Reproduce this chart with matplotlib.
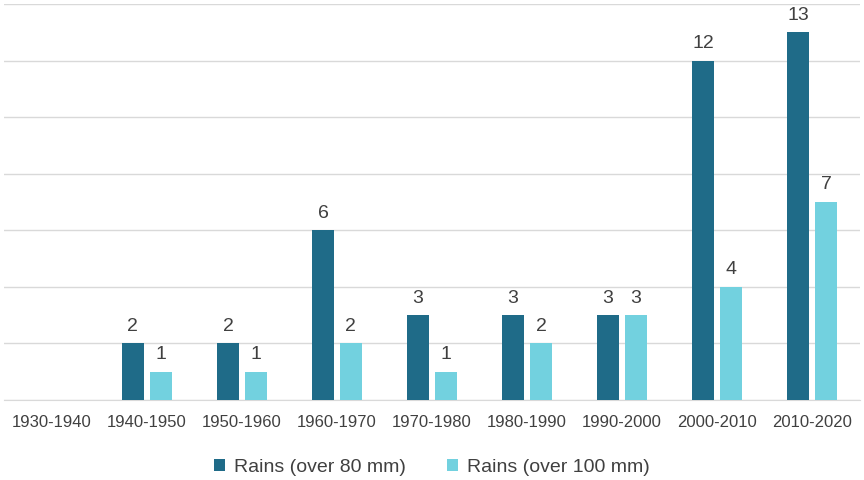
import matplotlib
matplotlib.use('Agg')
from matplotlib import pyplot as plt
import numpy as np

decades=['1930-1940','1940-1950','1950-1960','1960-1970','1970-1980','1980-1990','1990-2000','2000-2010','2010-2020']
over80=[0,2,2,6,3,3,3,12,13]
over100=[0,1,1,2,1,2,3,4,7]
series_names=['Rains (over 80 mm)','Rains (over 100 mm)']
dark='#1F6B88'
light='#72D1DF'

plt.rcParams['font.family']=['Liberation Sans','DejaVu Sans']
f=plt.figure(figsize=(8.64,4.8),dpi=100)
ax=f.add_axes((0.005,0.1667,0.99,0.825))
x=np.arange(len(decades))
w=0.23
off=0.147
b1=ax.bar(x-off,over80,w,color=dark,label=series_names[0],zorder=3)
b2=ax.bar(x+off,over100,w,color=light,label=series_names[1],zorder=3)
for bars,vals in ((b1,over80),(b2,over100)):
  for r,v in zip(bars,vals):
    if v>0:
      ax.text(r.get_x()+r.get_width()/2,v+0.3,f'{v}',ha='center',va='bottom',fontsize=14,color='#404040')
ax.set_xlim(-0.5,len(decades)-0.5)
ax.set_ylim(0,14)
ax.set_yticks(range(0,15,2))
ax.yaxis.grid(True,color='#D9D9D9',lw=1,zorder=0)
ax.tick_params(axis='y',left=False,labelleft=False)
ax.tick_params(axis='x',length=0,labelsize=12,labelcolor='#404040',pad=11)
ax.set_xticks(x)
ax.set_xticklabels(decades)
for s in ('top','right','left'):
  ax.spines[s].set_visible(False)
ax.spines['bottom'].set_color('#D9D9D9')
ax.legend(loc='upper center',bbox_to_anchor=(0.5,-0.105),ncol=2,frameon=False,fontsize=14,
          handlelength=0.55,handleheight=0.55,handletextpad=0.5,columnspacing=2.1,labelcolor='#404040')
plt.savefig('out.png',dpi=100)
